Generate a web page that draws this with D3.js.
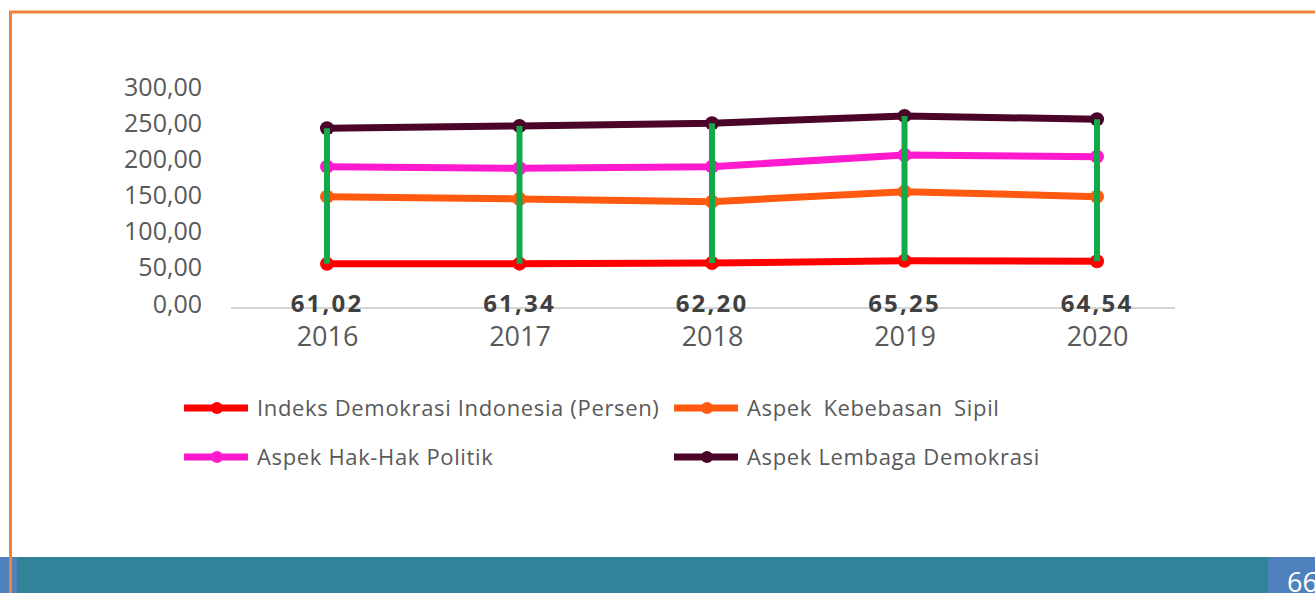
<!DOCTYPE html>
<html>
<head>
<meta charset="utf-8">
<script src="https://cdn.jsdelivr.net/npm/d3@7"></script>
<style>
    body { margin: 0; background: #fff; }
    svg { display: block; font-family: "Open Sans", "Noto Sans", sans-serif; }
</style>
</head>
<body>
<div id="chart"></div>
<script>
// data (stacked line chart: each series adds onto the one below)
const years = ["2016", "2017", "2018", "2019", "2020"];
const idi = [61.02, 61.34, 62.20, 65.25, 64.54];
const kebebasanSipil = [92.9, 89.4, 84.8, 95.6, 89.4];
const hakPolitik = [41.5, 42.4, 48.4, 50.7, 55.3];
const lembagaDemokrasi = [53.0, 58.5, 60.0, 54.0, 51.7];
const yTicks = [0, 50, 100, 150, 200, 250, 300];

const seriesNames = [
    "Indeks Demokrasi Indonesia (Persen)",
    "Aspek Kebebasan Sipil",
    "Aspek Hak-Hak Politik",
    "Aspek Lembaga Demokrasi"
];
const seriesColors = ["#ff0000", "#ff5a0f", "#ff19cf", "#4a0528"];
const pageNumber = "66";

const svgWidth = 1315,
    svgHeight = 593;

const svg = d3.select("#chart").append("svg")
    .attr("width", svgWidth)
    .attr("height", svgHeight);

// slide decoration
svg.append("rect")
    .attr("x", 0).attr("y", 557)
    .attr("width", svgWidth).attr("height", 36)
    .attr("fill", "#32839a");
svg.append("rect")
    .attr("x", 0).attr("y", 557)
    .attr("width", 17).attr("height", 36)
    .attr("fill", "#4f81bd");
svg.append("rect")
    .attr("x", 1268).attr("y", 557)
    .attr("width", 47).attr("height", 36)
    .attr("fill", "#4f81bd");
svg.append("text")
    .attr("x", 1287).attr("y", 592)
    .attr("fill", "#fff")
    .attr("font-size", 27)
    .text(pageNumber);
svg.append("path")
    .attr("d", "M10.5,593 V12 H1315")
    .attr("fill", "none")
    .attr("stroke", "#f0833a")
    .attr("stroke-width", 3);

// stack the series
let rows = years.map((y, i) => ({
    year: y,
    s0: idi[i],
    s1: kebebasanSipil[i],
    s2: hakPolitik[i],
    s3: lembagaDemokrasi[i]
}));
let stacked = d3.stack().keys(["s0", "s1", "s2", "s3"])(rows);

// scales
let xScale = d3.scalePoint()
    .domain(years)
    .range([327, 1097]);
let yScale = d3.scaleLinear()
    .domain([0, 300])
    .range([308, 91]);

const locale = d3.formatLocale({ decimal: ",", thousands: ".", grouping: [3], currency: ["Rp", ""] });
const fmt = locale.format(".2f");

// y axis (labels only)
let yAxis = svg.append("g")
    .attr("transform", "translate(210,-4)")
    .call(d3.axisLeft(yScale).tickValues(yTicks).tickSize(0).tickPadding(8).tickFormat(fmt));
yAxis.select(".domain").remove();
yAxis.selectAll("text")
    .attr("font-family", "Open Sans, sans-serif")
    .attr("font-size", 25)
    .attr("fill", "#595959");

// category axis line
svg.append("line")
    .attr("x1", 231).attr("x2", 1175)
    .attr("y1", yScale(0)).attr("y2", yScale(0))
    .attr("stroke", "#d4d4d4")
    .attr("stroke-width", 2);

// year labels
let xAxis = svg.append("g")
    .attr("transform", `translate(0, ${yScale(0)})`)
    .call(d3.axisBottom(xScale).tickSize(0).tickPadding(19));
xAxis.select(".domain").remove();
xAxis.selectAll("text")
    .attr("font-family", "Open Sans, sans-serif")
    .attr("font-size", 27)
    .attr("fill", "#595959");

// lines
let line = d3.line()
    .x((d) => xScale(d.data.year))
    .y((d) => yScale(d[1]));

svg.selectAll(".series")
    .data(stacked)
    .join("path")
    .attr("class", "series")
    .attr("d", line)
    .attr("fill", "none")
    .attr("stroke", (d, i) => seriesColors[i])
    .attr("stroke-width", 7)
    .attr("stroke-linejoin", "round");

stacked.forEach((s, i) => {
    svg.selectAll(".dot" + i)
        .data(s)
        .join("circle")
        .attr("class", "dot" + i)
        .attr("cx", (d) => xScale(d.data.year))
        .attr("cy", (d) => yScale(d[1]))
        .attr("r", 7)
        .attr("fill", seriesColors[i]);
});

// high-low lines
svg.selectAll(".hilo")
    .data(rows)
    .join("line")
    .attr("class", "hilo")
    .attr("x1", (d) => xScale(d.year))
    .attr("x2", (d) => xScale(d.year))
    .attr("y1", (d, i) => yScale(stacked[0][i][1]))
    .attr("y2", (d, i) => yScale(stacked[3][i][1]))
    .attr("stroke", "#13a84a")
    .attr("stroke-width", 6);

// data labels for the index
svg.selectAll(".dlabel")
    .data(rows)
    .join("text")
    .attr("class", "dlabel")
    .attr("x", (d) => xScale(d.year))
    .attr("y", 312)
    .attr("text-anchor", "middle")
    .attr("font-size", 24)
    .attr("font-weight", "bold")
    .attr("letter-spacing", 2.2)
    .attr("fill", "#404040")
    .text((d) => fmt(d.s0));

// legend
const legendPos = [[184, 408], [674, 408], [184, 457], [674, 457]];
let legend = svg.selectAll(".legend")
    .data(seriesNames)
    .join("g")
    .attr("class", "legend")
    .attr("transform", (d, i) => `translate(${legendPos[i][0]},${legendPos[i][1]})`);
legend.append("line")
    .attr("x1", 0).attr("x2", 64)
    .attr("stroke", (d, i) => seriesColors[i])
    .attr("stroke-width", 7);
legend.append("circle")
    .attr("cx", 33)
    .attr("r", 6)
    .attr("fill", (d, i) => seriesColors[i]);
legend.append("text")
    .attr("x", 73)
    .attr("dy", "0.35em")
    .attr("font-size", 22)
    .attr("letter-spacing", 0.65)
    .attr("word-spacing", (d, i) => i === 1 ? 5 : 0)
    .attr("fill", "#595959")
    .text((d) => d);
</script>
</body>
</html>
